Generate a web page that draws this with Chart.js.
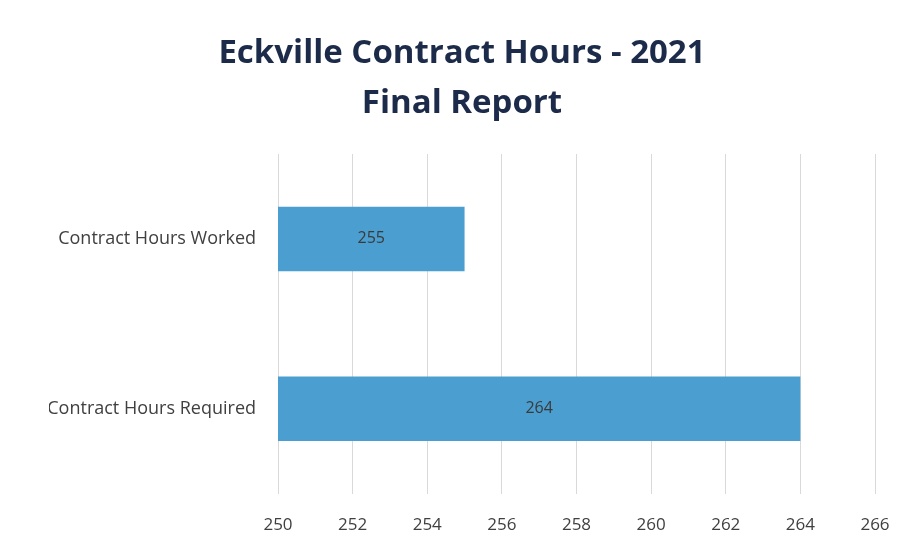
<!DOCTYPE html>
<html>
<head>
<meta charset="utf-8">
<script src="https://cdn.jsdelivr.net/npm/chart.js@4"></script>
<style>
  body { margin: 0; background: #ffffff; }
  #wrap { width: 906px; height: 556px; }
</style>
</head>
<body>
<div id="wrap"><canvas id="hoursChart" width="906" height="556"></canvas></div>
<script>
const categories = ['Contract Hours Worked', 'Contract Hours Required'];
const hours = [255, 264];
const tickValues = [250, 252, 254, 256, 258, 260, 262, 264, 266];

// value labels in the middle of each bar
const barLabels = {
    id: 'barLabels',
    afterDatasetsDraw(chart) {
        const c = chart.ctx;
        const left = chart.chartArea.left;
        c.save();
        c.font = '16px "Open Sans", sans-serif';
        c.fillStyle = '#3a3a3a';
        c.textAlign = 'center';
        c.textBaseline = 'middle';
        chart.getDatasetMeta(0).data.forEach((bar, i) => {
            c.fillText(String(hours[i]), (bar.x + left) / 2, bar.y);
        });
        c.restore();
    }
};

const ctx = document.getElementById('hoursChart').getContext('2d');

new Chart(ctx, {
    type: 'bar',
    data: {
        labels: categories,
        datasets: [{
            data: hours,
            backgroundColor: '#4b9fd0',
            categoryPercentage: 1,
            barPercentage: 0.38
        }]
    },
    options: {
        indexAxis: 'y',
        responsive: false,
        animation: false,
        layout: { padding: { left: 49, right: 31, top: 29, bottom: 0 } },
        plugins: {
            legend: { display: false },
            tooltip: { enabled: false },
            title: {
                display: true,
                text: ['Eckville Contract Hours - 2021', 'Final Report'],
                color: '#1c2b4a',
                font: { family: '"Open Sans", sans-serif', size: 33, weight: 'bold', lineHeight: 1.5 },
                padding: { top: 0, bottom: 26 }
            }
        },
        scales: {
            x: {
                min: 250,
                max: 266,
                afterBuildTicks: axis => { axis.ticks = tickValues.map(v => ({ value: v })); },
                afterFit: axis => { axis.paddingRight = 0; },
                grid: { color: '#d9d9d9', drawTicks: false },
                border: { display: false },
                ticks: {
                    color: '#404040',
                    font: { family: '"Open Sans", sans-serif', size: 17 },
                    padding: 21
                }
            },
            y: {
                grid: { display: false },
                border: { display: false },
                afterFit: axis => { axis.width = 229; },
                ticks: {
                    color: '#404040',
                    font: { family: '"Open Sans", sans-serif', size: 18 },
                    padding: 14
                }
            }
        }
    },
    plugins: [barLabels]
});
</script>
</body>
</html>
